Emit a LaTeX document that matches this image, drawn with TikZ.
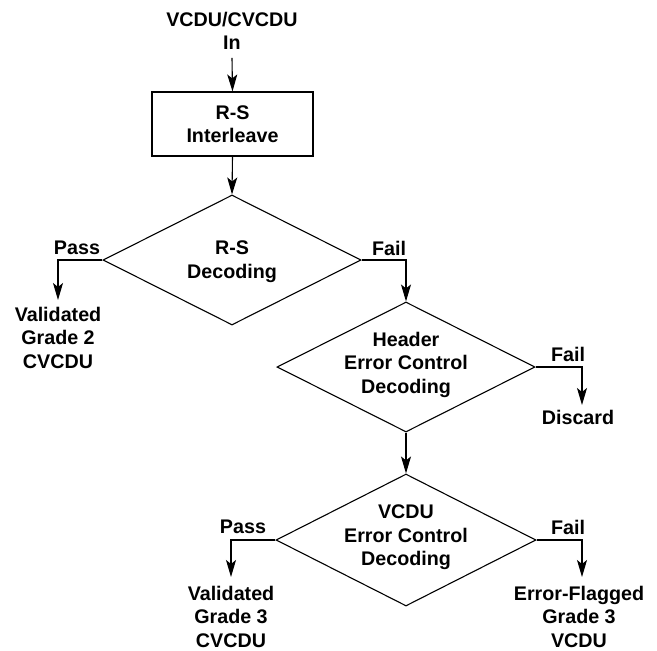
\documentclass[tikz,border=0pt]{standalone}
\usepackage{fontspec}
\setmainfont{Liberation Sans}
\usetikzlibrary{arrows.meta,shapes.geometric}
\begin{document}
\begin{tikzpicture}[x=1pt,y=-1pt,
  lbl/.style={font=\bfseries\fontsize{19.7}{23.3}\selectfont,align=center,inner sep=0pt,anchor=north},
  procbox/.style={draw,line width=1.1pt,minimum width=161pt,minimum height=64pt,inner sep=0pt,font=\bfseries\fontsize{19.7}{23.3}\selectfont,align=center},
  decision/.style={draw,diamond,line width=1.1pt,inner sep=0pt,minimum width=258pt,minimum height=130pt,aspect=2},
  arr/.style={line width=1.1pt,-{Stealth[length=17pt,width=10pt,inset=4pt]}}]
\useasboundingbox (0,0) rectangle (657,651);
% nodes
\node[lbl] (in) at (232,12) {VCDU/CVCDU\\In};
\node[procbox] (box) at (232.5,124) {R-S\\Interleave};
\node[decision] (d1) at (232,260) {};
\node[lbl] (d1t) at (232,241) {R-S\\Decoding};
\node[lbl] (pass1) at (77,241) {Pass};
\node[lbl] (fail1) at (389,241) {Fail};
\node[lbl] (v2) at (58,307) {Validated\\Grade 2\\CVCDU};
\node[decision] (d2) at (406,367) {};
\node[lbl] (d2t) at (406,332) {Header\\Error Control\\Decoding};
\node[lbl] (fail2) at (568,347) {Fail};
\node[lbl] (disc) at (578,410) {Discard};
\node[decision,minimum width=260pt,minimum height=132pt] (d3) at (406,540) {};
\node[lbl] (d3t) at (406,505) {VCDU\\Error Control\\Decoding};
\node[lbl] (pass3) at (243,520) {Pass};
\node[lbl] (fail3) at (568,520) {Fail};
\node[lbl] (v3) at (231,586) {Validated\\Grade 3\\CVCDU};
\node[lbl] (ef3) at (579,586) {Error-Flagged\\Grade 3\\VCDU};
% connectors
\draw[arr] ([yshift=-8pt]in.south) -- (box.north);
\draw[arr] (box.south) -- (d1.north);
\draw[arr] (d1.west) -| ([yshift=7pt]v2.north);
\draw[arr] (d1.east) -| (d2.north);
\draw[arr] (d2.east) -| ([xshift=4pt,yshift=5pt]disc.north);
\draw[arr] (d2.south) -- (d3.north);
\draw[arr] (d3.west) -| ([yshift=9pt]v3.north);
\draw[arr] (d3.east) -| ([xshift=3pt,yshift=9pt]ef3.north);
\end{tikzpicture}
\end{document}
